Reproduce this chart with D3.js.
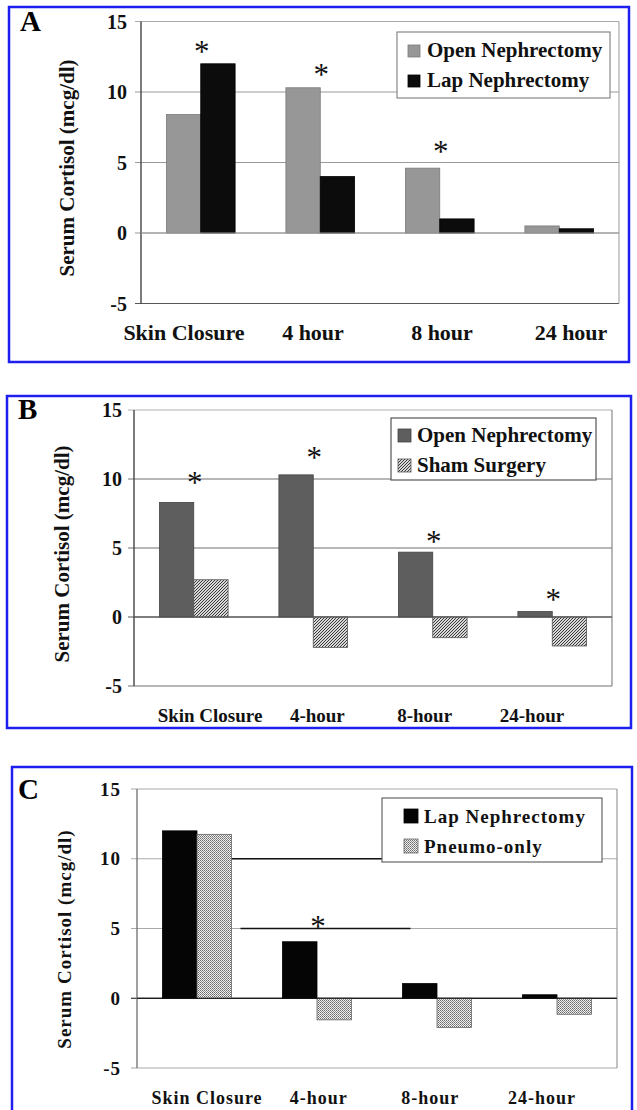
<!DOCTYPE html>
<html><head><meta charset="utf-8">
<script src="https://cdn.jsdelivr.net/npm/d3@7"></script>
<style>body{margin:0;background:#fff} svg{display:block}</style>
</head><body>
<svg id="chart" width="637" height="1110"></svg>
<script>
// ---------------- DATA ----------------
const categoriesA = ["Skin Closure", "4 hour", "8 hour", "24 hour"];
const categoriesBC = ["Skin Closure", "4-hour", "8-hour", "24-hour"];
const yTicks = [-5, 0, 5, 10, 15];
const yDomain = [-5, 15];

const openA = [8.4, 10.3, 4.6, 0.5];
const lapA = [12.0, 4.0, 1.0, 0.3];
const starsA = [13.2, 11.55, 6.1, null];

const openB = [8.3, 10.3, 4.7, 0.4];
const shamB = [2.7, -2.2, -1.5, -2.1];
const starsB = [10.1, 11.9, 5.8, 1.6];

const lapC = [12.0, 4.05, 1.05, 0.25];
const pneumoC = [11.75, -1.55, -2.1, -1.15];
const starsC = [null, 5.5, null, null];

const yTitle = "Serum Cortisol (mcg/dl)";

// ---------------- SETUP ----------------
const svg = d3.select("#chart");
const defs = svg.append("defs");
const FONT = "'Liberation Serif','Times New Roman',serif";

// hatch pattern (Sham Surgery)
const hatch = defs.append("pattern").attr("id", "hatch")
  .attr("patternUnits", "userSpaceOnUse").attr("width", 3).attr("height", 3);
hatch.append("rect").attr("width", 3).attr("height", 3).attr("fill", "#d8d8d8");
hatch.append("path").attr("d", "M-1,1 L1,-1 M0,3 L3,0 M2,4 L4,2")
  .attr("stroke", "#3a3a3a").attr("stroke-width", 1);

// checker pattern (Pneumo-only)
const check = defs.append("pattern").attr("id", "check")
  .attr("patternUnits", "userSpaceOnUse").attr("width", 2).attr("height", 2);
check.append("rect").attr("width", 2).attr("height", 2).attr("fill", "#f0f0f0");
check.append("rect").attr("width", 1).attr("height", 1).attr("fill", "#6a6a6a");
check.append("rect").attr("x", 1).attr("y", 1).attr("width", 1).attr("height", 1).attr("fill", "#8a8a8a");

function panel(cfg) {
  const g = svg.append("g");
  const y = d3.scaleLinear().domain(yDomain).range([cfg.bottom, cfg.top]);
  const x = d3.scaleBand().domain(cfg.categories).range([cfg.left, cfg.right])
    .paddingInner(0.425).paddingOuter(0.2125);
  const xs = d3.scaleBand().domain(cfg.series.map(s => s.name)).range([0, x.bandwidth()]);
  const xl = d3.scalePoint().domain(cfg.categories).range(cfg.labelRange);

  // blue frame
  g.append("rect").attr("x", cfg.frame[0]).attr("y", cfg.frame[1])
    .attr("width", cfg.frame[2]).attr("height", cfg.frame[3])
    .attr("fill", "none").attr("stroke", "#1e1ef0").attr("stroke-width", 2.5);

  // panel letter
  g.append("text").attr("x", cfg.letterPos[0]).attr("y", cfg.letterPos[1])
    .attr("font-family", FONT).attr("font-weight", "bold").attr("font-size", 29)
    .text(cfg.letter);

  // gridlines
  g.selectAll(".grid").data(yTicks).join("line")
    .attr("x1", cfg.left - 6).attr("x2", cfg.right)
    .attr("y1", d => y(d)).attr("y2", d => y(d))
    .attr("stroke", d => cfg.gridColor(d)).attr("stroke-width", 1.2);
  if (cfg.darkSegments) {
    cfg.darkSegments.forEach(s => {
      g.append("line")
        .attr("x1", x(cfg.categories[s.from]) + x.bandwidth() + (s.dx0 || 0))
        .attr("x2", s.to === null ? cfg.right : x(cfg.categories[s.to]) + (s.dx1 || 0))
        .attr("y1", y(s.v)).attr("y2", y(s.v))
        .attr("stroke", "#111").attr("stroke-width", 1.4);
    });
  }
  // right border and left axis
  g.append("line").attr("x1", cfg.right).attr("x2", cfg.right)
    .attr("y1", y(15)).attr("y2", y(-5)).attr("stroke", cfg.rightColor).attr("stroke-width", 1.2);
  g.append("line").attr("x1", cfg.left).attr("x2", cfg.left)
    .attr("y1", y(15)).attr("y2", y(-5)).attr("stroke", cfg.axisColor).attr("stroke-width", 1.4);

  // bars
  cfg.series.forEach(s => {
    g.selectAll(null).data(s.values).join("rect")
      .attr("x", (d, i) => x(cfg.categories[i]) + xs(s.name))
      .attr("width", xs.bandwidth())
      .attr("y", d => y(Math.max(0, d)))
      .attr("height", d => Math.abs(y(d) - y(0)))
      .attr("fill", s.fill).attr("stroke", s.stroke).attr("stroke-width", 0.8);
  });
  // zero line over bars
  g.append("line").attr("x1", cfg.left).attr("x2", cfg.right)
    .attr("y1", y(0)).attr("y2", y(0)).attr("stroke", cfg.gridColor(0)).attr("stroke-width", 1.2);

  // asterisks
  g.selectAll(null).data(cfg.stars.map((v, i) => ({v, i})).filter(d => d.v !== null)).join("text")
    .attr("x", d => x(cfg.categories[d.i]) + x.bandwidth() / 2 + 1)
    .attr("y", d => y(d.v) + 15)
    .attr("text-anchor", "middle").attr("font-family", FONT).attr("font-size", 31)
    .attr("fill", "#111").text("*");

  // y tick labels
  g.selectAll(null).data(yTicks).join("text")
    .attr("x", cfg.left - cfg.tickGap).attr("y", d => y(d)).attr("dy", "0.35em")
    .attr("text-anchor", "end").attr("font-family", FONT).attr("font-weight", "bold")
    .attr("font-size", cfg.tickSize).attr("letter-spacing", cfg.spacing)
    .attr("fill", "#111").text(d => d);

  // y title
  g.append("text")
    .attr("transform", `translate(${cfg.titlePos[0]},${cfg.titlePos[1]}) rotate(-90)`)
    .attr("text-anchor", "middle").attr("font-family", FONT).attr("font-weight", "bold")
    .attr("font-size", cfg.titleSize).attr("letter-spacing", cfg.spacing)
    .attr("fill", "#111").text(yTitle);

  // x labels
  g.selectAll(null).data(cfg.categories).join("text")
    .attr("x", d => xl(d)).attr("y", cfg.labelY)
    .attr("text-anchor", "middle").attr("font-family", FONT).attr("font-weight", "bold")
    .attr("font-size", cfg.labelSize).attr("letter-spacing", cfg.spacing)
    .attr("fill", "#111").text(d => d);

  // legend
  const L = cfg.legend;
  g.append("rect").attr("x", L.x).attr("y", L.y).attr("width", L.w).attr("height", L.h)
    .attr("fill", "#fff").attr("stroke", L.stroke).attr("stroke-width", 1.2);
  cfg.series.forEach((s, i) => {
    const by = L.base0 + i * L.step;
    g.append("rect").attr("x", L.sx).attr("y", by - L.sq).attr("width", L.sq).attr("height", L.sq)
      .attr("fill", s.fill).attr("stroke", s.stroke).attr("stroke-width", 0.8);
    g.append("text").attr("x", L.tx).attr("y", by)
      .attr("font-family", FONT).attr("font-weight", "bold").attr("font-size", L.size)
      .attr("letter-spacing", cfg.spacing).attr("fill", "#111").text(s.name);
  });
}

// ---------------- PANEL A ----------------
panel({
  letter: "A", letterPos: [20, 31],
  frame: [9, 7, 620, 355],
  left: 141, right: 619, top: 21.5, bottom: 303.5,
  categories: categoriesA,
  series: [
    {name: "Open Nephrectomy", values: openA, fill: "#979797", stroke: "#7a7a7a"},
    {name: "Lap Nephrectomy", values: lapA, fill: "#0c0c0c", stroke: "#000"}
  ],
  stars: starsA,
  gridColor: d => d === -5 ? "#555" : (d === 15 ? "#aaa" : "#9a9a9a"),
  rightColor: "#aaa", axisColor: "#444",
  tickGap: 14, tickSize: 20, titleSize: 21, labelSize: 22, spacing: 0,
  titlePos: [74, 168],
  labelRange: [184, 571], labelY: 340,
  legend: {x: 397, y: 32, w: 213, h: 66, stroke: "#888", sx: 408, sq: 12, tx: 427, base0: 57, step: 30, size: 21}
});

// ---------------- PANEL B ----------------
panel({
  letter: "B", letterPos: [18, 419],
  frame: [7, 396, 624, 332],
  left: 134, right: 612, top: 410, bottom: 686,
  categories: categoriesBC,
  series: [
    {name: "Open Nephrectomy", values: openB, fill: "#5e5e5e", stroke: "#444"},
    {name: "Sham Surgery", values: shamB, fill: "url(#hatch)", stroke: "#555"}
  ],
  stars: starsB,
  gridColor: d => d === 15 ? "#b0b0b0" : (d === 0 ? "#555" : "#707070"),
  rightColor: "#888", axisColor: "#444",
  tickGap: 12, tickSize: 20, titleSize: 21, labelSize: 19, spacing: 0,
  titlePos: [69, 554],
  labelRange: [210, 532], labelY: 722,
  legend: {x: 391, y: 418, w: 205, h: 62, stroke: "#555", sx: 398, sq: 13, tx: 417, base0: 442, step: 30, size: 21}
});

// ---------------- PANEL C ----------------
panel({
  letter: "C", letterPos: [18, 799],
  frame: [12, 767, 620, 400],
  left: 137, right: 617, top: 789, bottom: 1068,
  categories: categoriesBC,
  series: [
    {name: "Lap Nephrectomy", values: lapC, fill: "#050505", stroke: "#000"},
    {name: "Pneumo-only", values: pneumoC, fill: "url(#check)", stroke: "#666"}
  ],
  stars: starsC,
  gridColor: d => d === 0 ? "#111" : "#aaa",
  darkSegments: [{v: 10, from: 0, to: 3, dx1: 69}, {v: 5, from: 0, dx0: 9, to: 2, dx1: 8}],
  rightColor: "#999", axisColor: "#777",
  tickGap: 16, tickSize: 19, titleSize: 19, labelSize: 18, spacing: 1,
  titlePos: [71, 939],
  labelRange: [207, 542], labelY: 1104,
  legend: {x: 382, y: 798, w: 220, h: 64, stroke: "#666", sx: 404, sq: 14, tx: 424, base0: 823, step: 30, size: 19}
});
</script>
</body></html>
